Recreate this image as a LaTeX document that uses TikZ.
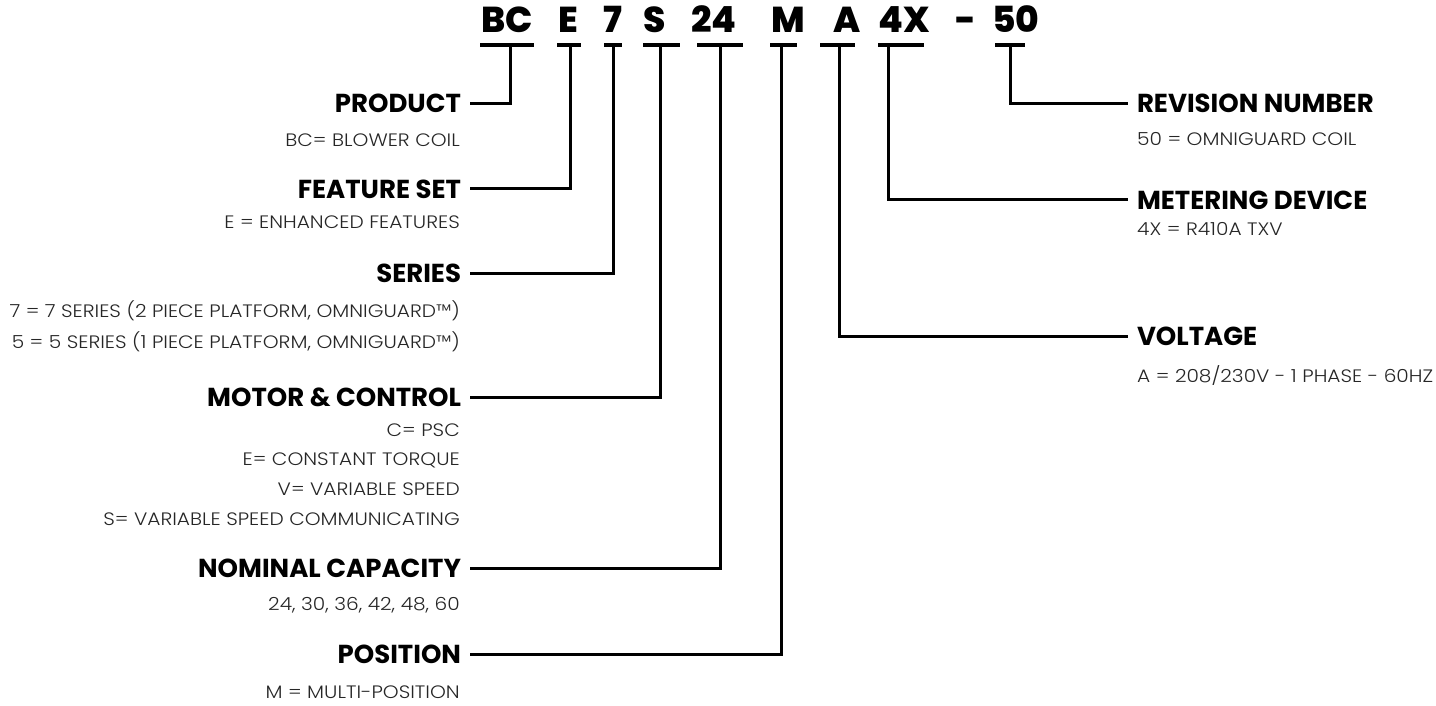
\documentclass[tikz,border=0pt]{standalone}
\usepackage{fontspec}
\setmainfont{Poppins}
\newfontfamily\codefont{Poppins ExtraBold}
\newfontfamily\lightfont{Poppins Light}[FakeStretch=1.12]
\begin{document}
\begin{tikzpicture}[x=1pt,y=-1pt,line cap=butt,line join=miter,
	code/.style={font=\codefont\fontsize{36}{36}\selectfont,inner sep=0pt,anchor=base},
	head/.style={font=\bfseries\fontsize{26}{26}\selectfont,inner sep=0pt,outer xsep=9pt,text height=18pt,text depth=0pt},
	desc/.style={font=\lightfont\fontsize{18}{18}\selectfont,inner sep=0pt,text=black!85},
	bar/.style={line width=3.5pt},
	lead/.style={line width=3pt}]
	\useasboundingbox (0,0) rectangle (1436,706);
	% model code
	\node[code] (bc) at (507,33) {BC};
	\node[code] (e) at (568,33) {E};
	\node[code] (seven) at (613,33) {7};
	\node[code] (s) at (655,33) {S};
	\node[code] (cap) at (714,33) {24};
	\node[code] (m) at (788,33) {M};
	\node[code] (a) at (847,33) {A};
	\node[code] (fourx) at (904,33) {4X};
	\node[code] (dash) at (966,33) {-};
	\node[code] (fifty) at (1016,33) {50};
	\draw[bar] ([xshift=-27pt,yshift=-12pt]bc.base) -- ++(54,0);
	\draw[bar] ([xshift=-11pt,yshift=-12pt]e.base) -- ++(24,0);
	\draw[bar] ([xshift=-9pt,yshift=-12pt]seven.base) -- ++(18,0);
	\draw[bar] ([xshift=-12pt,yshift=-12pt]s.base) -- ++(37,0);
	\draw[bar] ([xshift=-17pt,yshift=-12pt]cap.base) -- ++(46,0);
	\draw[bar] ([xshift=-18pt,yshift=-12pt]m.base) -- ++(27,0);
	\draw[bar] ([xshift=-27pt,yshift=-12pt]a.base) -- ++(35,0);
	\draw[bar] ([xshift=-26pt,yshift=-12pt]fourx.base) -- ++(46,0);
	\draw[bar] ([xshift=-21pt,yshift=-12pt]fifty.base) -- ++(30,0);
	% left side
	\node[head,anchor=east] (product) at (470,104) {PRODUCT};
	\node[desc,anchor=base east] (productd) at (460,147) {BC= BLOWER COIL};
	\node[head,anchor=east] (feature) at (470,189) {FEATURE SET};
	\node[desc,anchor=base east] (featured) at (460,228) {E = ENHANCED FEATURES};
	\node[head,anchor=east] (series) at (470,273) {SERIES};
	\node[desc,anchor=base east] (seriesa) at (460,317) {7 = 7 SERIES (2 PIECE PLATFORM, OMNIGUARD™)};
	\node[desc,anchor=base east] (seriesb) at (460,348) {5 = 5 SERIES (1 PIECE PLATFORM, OMNIGUARD™)};
	\node[head,anchor=east] (motor) at (470,397) {MOTOR \& CONTROL};
	\node[desc,anchor=base east] (motora) at (460,436) {C= PSC};
	\node[desc,anchor=base east] (motorb) at (460,465) {E= CONSTANT TORQUE};
	\node[desc,anchor=base east] (motorc) at (460,495) {V= VARIABLE SPEED};
	\node[desc,anchor=base east] (motord) at (460,525) {S= VARIABLE SPEED COMMUNICATING};
	\node[head,anchor=east] (nominal) at (470,568) {NOMINAL CAPACITY};
	\node[desc,anchor=base east] (nominald) at (460,610) {24, 30, 36, 42, 48, 60};
	\node[head,anchor=east] (position) at (470,654) {POSITION};
	\node[desc,anchor=base east] (positiond) at (460,698) {M = MULTI-POSITION};
	% right side
	\node[head,anchor=west] (revision) at (1128,104) {REVISION NUMBER};
	\node[desc,anchor=base west] (revisiond) at (1137,146) {50 = OMNIGUARD COIL};
	\node[head,anchor=west] (metering) at (1128,200) {METERING DEVICE};
	\node[desc,anchor=base west] (meteringd) at (1137,236) {4X = R410A TXV};
	\node[head,anchor=west] (voltage) at (1128,336) {VOLTAGE};
	\node[desc,anchor=base west] (voltaged) at (1137,382) {A = 208/230V - 1 PHASE - 60HZ};
	% leaders
	\draw[lead] ([xshift=3pt,yshift=-12pt]bc.base) |- (product.east);
	\draw[lead] ([xshift=2pt,yshift=-12pt]e.base) |- (feature.east);
	\draw[lead] ([yshift=-12pt]seven.base) |- (series.east);
	\draw[lead] ([xshift=5pt,yshift=-12pt]s.base) |- (motor.east);
	\draw[lead] ([xshift=6pt,yshift=-12pt]cap.base) |- (nominal.east);
	\draw[lead] ([xshift=-7pt,yshift=-12pt]m.base) |- (position.east);
	\draw[lead] ([xshift=-8pt,yshift=-12pt]a.base) |- (voltage.west);
	\draw[lead] ([xshift=-16pt,yshift=-12pt]fourx.base) |- (metering.west);
	\draw[lead] ([xshift=-6pt,yshift=-12pt]fifty.base) |- (revision.west);
\end{tikzpicture}
\end{document}
